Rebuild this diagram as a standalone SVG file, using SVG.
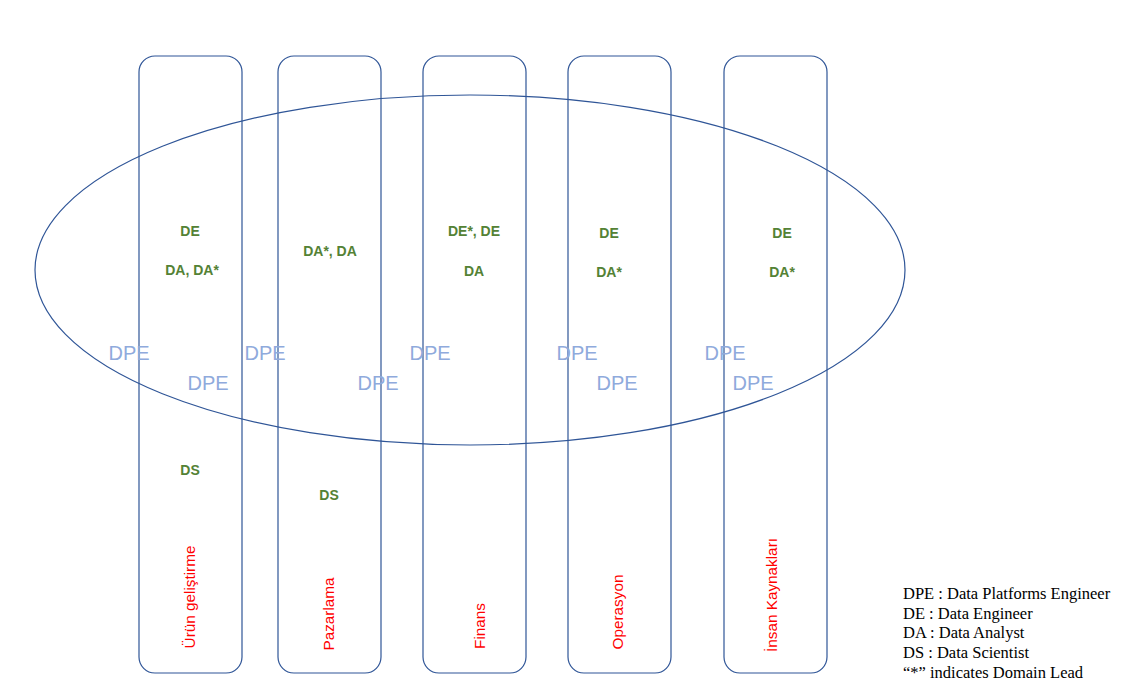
<svg xmlns="http://www.w3.org/2000/svg" width="1134" height="686" viewBox="0 0 1134 686">
<style>
.col{fill:none;stroke:#2f5597;stroke-width:1.2}
.r{font-family:"Liberation Sans",Arial,sans-serif;font-size:15.3px;fill:#ff0000;text-anchor:middle}
.g{font-family:"Liberation Sans",Arial,sans-serif;font-size:14px;font-weight:bold;fill:#548235;text-anchor:middle}
.d{font-family:"Liberation Sans",Arial,sans-serif;font-size:20px;fill:#8faadc;text-anchor:middle}
.l{font-family:"Liberation Serif","Times New Roman",serif;font-size:16.5px;fill:#000}
</style>
<rect width="1134" height="686" fill="#fff"/>
<g id="col1"><rect class="col" x="139" y="56" width="103" height="617" rx="16"/><text class="r" transform="translate(195,597) rotate(-90)">Ürün geliştirme</text></g>
<g id="col2"><rect class="col" x="278" y="56" width="103" height="617" rx="16"/><text class="r" transform="translate(334,614) rotate(-90)">Pazarlama</text></g>
<g id="col3"><rect class="col" x="423" y="56" width="103" height="617" rx="16"/><text class="r" transform="translate(485,626) rotate(-90)">Finans</text></g>
<g id="col4"><rect class="col" x="568" y="56" width="103" height="617" rx="16"/><text class="r" transform="translate(623,612) rotate(-90)">Operasyon</text></g>
<g id="col5"><rect class="col" x="724" y="56" width="103" height="617" rx="16"/><text class="r" transform="translate(777,595) rotate(-90)">İnsan Kaynakları</text></g>
<g id="ellipse"><ellipse class="col" cx="470" cy="270" rx="435" ry="175"/></g>
<g id="roles">
<text class="g" x="190" y="236">DE</text><text class="g" x="192" y="275">DA, DA*</text><text class="g" x="190" y="475">DS</text>
<text class="g" x="330" y="256">DA*, DA</text><text class="g" x="329" y="500">DS</text>
<text class="g" x="474" y="236">DE*, DE</text><text class="g" x="474" y="276">DA</text>
<text class="g" x="609" y="238">DE</text><text class="g" x="609" y="277">DA*</text>
<text class="g" x="782" y="238">DE</text><text class="g" x="782" y="277">DA*</text>
</g>
<g id="dpe">
<text class="d" x="129" y="360">DPE</text><text class="d" x="265" y="360">DPE</text><text class="d" x="430" y="360">DPE</text><text class="d" x="577" y="360">DPE</text><text class="d" x="725" y="360">DPE</text>
<text class="d" x="208" y="390">DPE</text><text class="d" x="378" y="390">DPE</text><text class="d" x="617" y="390">DPE</text><text class="d" x="753" y="390">DPE</text>
</g>
<g id="legend">
<text class="l" x="903" y="599">DPE : Data Platforms Engineer</text>
<text class="l" x="903" y="619">DE : Data Engineer</text>
<text class="l" x="903" y="638">DA : Data Analyst</text>
<text class="l" x="903" y="658">DS : Data Scientist</text>
<text class="l" x="903" y="678">“*” indicates Domain Lead</text>
</g>
</svg>
